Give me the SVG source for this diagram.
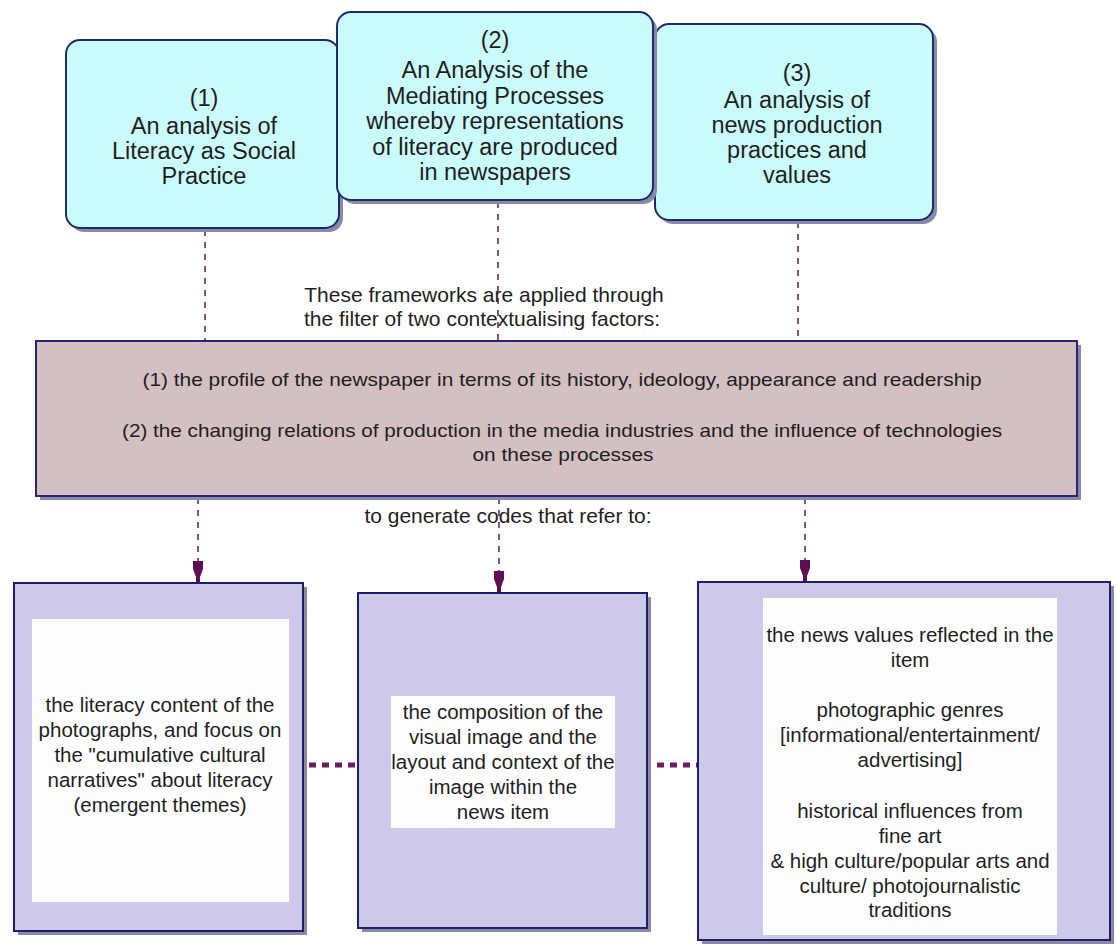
<svg xmlns="http://www.w3.org/2000/svg" width="1117" height="944" viewBox="0 0 1117 944">
<style>
  .shadow { fill: #8a8aa6; }
  .top { fill: #cbfcfc; stroke: #1e2a6e; stroke-width: 2; }
  .brown { fill: #d4c0c2; stroke: #2a2478; stroke-width: 2; }
  .lav { fill: #cdc9e8; stroke: #1e1e6e; stroke-width: 2; }
  .inner { fill: #fefefe; }
  text { font-family: "Liberation Sans", Arial, sans-serif; fill: #1e1e1e; text-anchor: middle; }
  .t23 { font-size: 23.5px; }
  .t21 { font-size: 21px; }
  .t20 { font-size: 20.5px; }
  .t18 { font-size: 18.5px; }
  .dash { stroke: #6a2a60; stroke-width: 1.6; stroke-dasharray: 6 6; fill: none; }
  .dots { stroke: #6a1e5e; stroke-width: 5; stroke-dasharray: 7 6; fill: none; }
  .head { fill: #5e0e52; }
</style>
<defs>
  <path id="arrowhead" class="head" d="M -5 -22 L 5 -22 L 5 -14 L 2 -6 L 2 0 L -2 0 L -2 -6 L -5 -14 Z"/>
</defs>
<rect width="1117" height="944" fill="#ffffff"/>

<g id="connectors">
  <line class="dash" x1="205" y1="230" x2="205" y2="341"/>
  <line class="dash" x1="498" y1="202" x2="498" y2="341"/>
  <line class="dash" x1="798" y1="222" x2="798" y2="341"/>
  <line class="dash" x1="198" y1="498" x2="198" y2="562"/>
  <line class="dash" x1="499" y1="498" x2="499" y2="572"/>
  <line class="dash" x1="805" y1="498" x2="805" y2="561"/>
  <use href="#arrowhead" x="198" y="583"/>
  <use href="#arrowhead" x="499" y="593"/>
  <use href="#arrowhead" x="805" y="582"/>
  <line class="dots" x1="309" y1="765" x2="358" y2="765"/>
  <line class="dots" x1="657" y1="765" x2="697" y2="765"/>
</g>

<g id="box1">
  <rect class="shadow" x="70" y="44" width="273" height="188" rx="14"/>
  <rect class="top" x="66" y="40" width="273" height="188" rx="14"/>
  <text class="t23" x="204" y="106">(1)</text>
  <text class="t23" x="204" y="134">An analysis of</text>
  <text class="t23" x="204" y="159">Literacy as Social</text>
  <text class="t23" x="204" y="184">Practice</text>
</g>

<g id="box3">
  <rect class="shadow" x="659" y="28" width="278" height="196" rx="14"/>
  <rect class="top" x="655" y="24" width="278" height="196" rx="14"/>
  <text class="t23" x="797" y="81">(3)</text>
  <text class="t23" x="797" y="108">An analysis of</text>
  <text class="t23" x="797" y="133">news production</text>
  <text class="t23" x="797" y="158">practices and</text>
  <text class="t23" x="797" y="183">values</text>
</g>

<g id="box2">
  <rect class="shadow" x="341" y="16" width="316" height="188" rx="14"/>
  <rect class="top" x="337" y="12" width="316" height="188" rx="14"/>
  <text class="t23" x="495" y="48">(2)</text>
  <text class="t23" x="495" y="78">An Analysis of the</text>
  <text class="t23" x="495" y="103.5">Mediating Processes</text>
  <text class="t23" x="495" y="129">whereby representations</text>
  <text class="t23" x="495" y="154.5">of literacy are produced</text>
  <text class="t23" x="495" y="180">in newspapers</text>
</g>

<g id="label-frameworks">
  <text class="t21" x="484" y="302">These frameworks are applied through</text>
  <text class="t21" x="482" y="326">the filter of two contextualising factors:</text>
</g>

<g id="filter">
  <rect class="shadow" x="40" y="345" width="1041" height="155"/>
  <rect class="brown" x="36" y="341" width="1041" height="155"/>
  <text class="t18" x="562" y="386" textLength="839" lengthAdjust="spacingAndGlyphs">(1) the profile of the newspaper  in terms of its history,  ideology, appearance and readership</text>
  <text class="t18" x="562" y="437" textLength="880" lengthAdjust="spacingAndGlyphs">(2) the changing relations of production in the media industries and the influence of technologies</text>
  <text class="t18" x="563" y="461" textLength="181" lengthAdjust="spacingAndGlyphs">on these processes</text>
</g>

<g id="label-generate">
  <text class="t21" x="508" y="523">to generate codes that refer to:</text>
</g>

<g id="code1">
  <rect class="shadow" x="18" y="587" width="289" height="348"/>
  <rect class="lav" x="14" y="583" width="289" height="348"/>
  <rect class="inner" x="32" y="619" width="257" height="283"/>
  <text class="t20" x="160" y="712">the literacy content of the</text>
  <text class="t20" x="160" y="737">photographs, and  focus on</text>
  <text class="t20" x="160" y="762">the "cumulative cultural</text>
  <text class="t20" x="160" y="787">narratives" about literacy</text>
  <text class="t20" x="160" y="812">(emergent themes)</text>
</g>

<g id="code2">
  <rect class="shadow" x="362" y="597" width="289" height="335"/>
  <rect class="lav" x="358" y="593" width="289" height="335"/>
  <rect class="inner" x="391" y="696" width="224" height="132"/>
  <text class="t20" x="503" y="719">the composition of the</text>
  <text class="t20" x="503" y="744">visual image and the</text>
  <text class="t20" x="503" y="769">layout and context of the</text>
  <text class="t20" x="503" y="794">image within the</text>
  <text class="t20" x="503" y="819">news item</text>
</g>

<g id="code3">
  <rect class="shadow" x="702" y="586" width="412" height="358"/>
  <rect class="lav" x="698" y="582" width="412" height="358"/>
  <rect class="inner" x="763" y="598" width="294" height="337"/>
  <text class="t20" x="910" y="642">the news values reflected in the</text>
  <text class="t20" x="910" y="667">item</text>
  <text class="t20" x="910" y="717">photographic genres</text>
  <text class="t20" x="910" y="742">[informational/entertainment/</text>
  <text class="t20" x="910" y="767">advertising]</text>
  <text class="t20" x="910" y="818">historical influences from</text>
  <text class="t20" x="910" y="843">fine art</text>
  <text class="t20" x="910" y="868">&amp; high culture/popular arts and</text>
  <text class="t20" x="910" y="893">culture/ photojournalistic</text>
  <text class="t20" x="910" y="917">traditions</text>
</g>
</svg>
